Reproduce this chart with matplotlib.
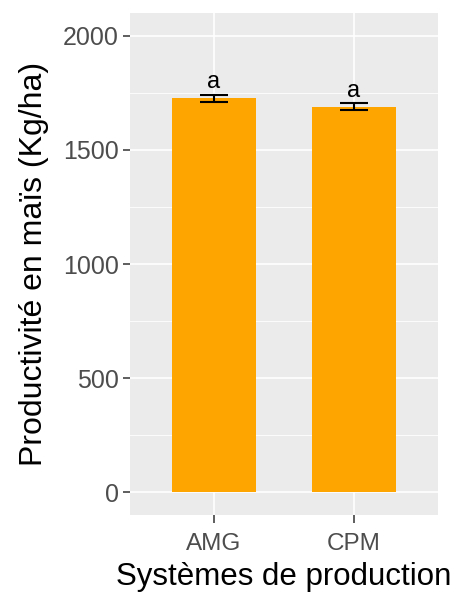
import numpy as np
import matplotlib
matplotlib.use("Agg")
import matplotlib.pyplot as plt

systemes = ["AMG", "CPM"]
productivite = [1726, 1690]
erreur = [16, 15]
lettres = ["a", "a"]

plt.rcParams['font.family'] = ['Liberation Sans', 'DejaVu Sans']

fig = plt.figure(figsize=(4.53, 5.93), dpi=100)
ax = fig.add_axes([0.287, 0.1315, 0.68, 0.8465])
ax.set_facecolor("#EBEBEB")

x = np.arange(1, len(systemes) + 1)
ax.bar(x, productivite, width=0.6, color="#FFA500", zorder=3)
ax.errorbar(x, productivite, yerr=erreur, fmt="none", ecolor="black",
            elinewidth=1.5, capsize=10, capthick=1.5, zorder=4)
for xi, yi, ei, l in zip(x, productivite, erreur, lettres):
    ax.text(xi, yi + ei + 6, l, ha="center", va="bottom", fontsize=17, zorder=5)

ax.set_xlim(0.4, 2.6)
ax.set_ylim(-100, 2100)
ax.set_xticks(x)
ax.set_xticklabels(systemes)
ax.set_yticks([0, 500, 1000, 1500, 2000])
ax.set_yticks([250, 750, 1250, 1750], minor=True)
ax.grid(which="major", color="white", linewidth=1.2, zorder=0)
ax.grid(which="minor", axis="y", color="white", linewidth=0.6, zorder=0)
ax.set_axisbelow(True)
for s in ax.spines.values():
    s.set_visible(False)
ax.tick_params(which="major", colors="#333333", labelcolor="#4D4D4D",
               labelsize=18, length=5, width=1.1, pad=3)
ax.tick_params(axis="x", labelsize=17.5, length=6, pad=7)
ax.tick_params(which="minor", length=0)

ax.set_xlabel("Systèmes de production", fontsize=22.5, labelpad=5)
ax.set_ylabel("Productivité en maïs (Kg/ha)", fontsize=23, labelpad=10)

fig.savefig("out.png", dpi=100)
